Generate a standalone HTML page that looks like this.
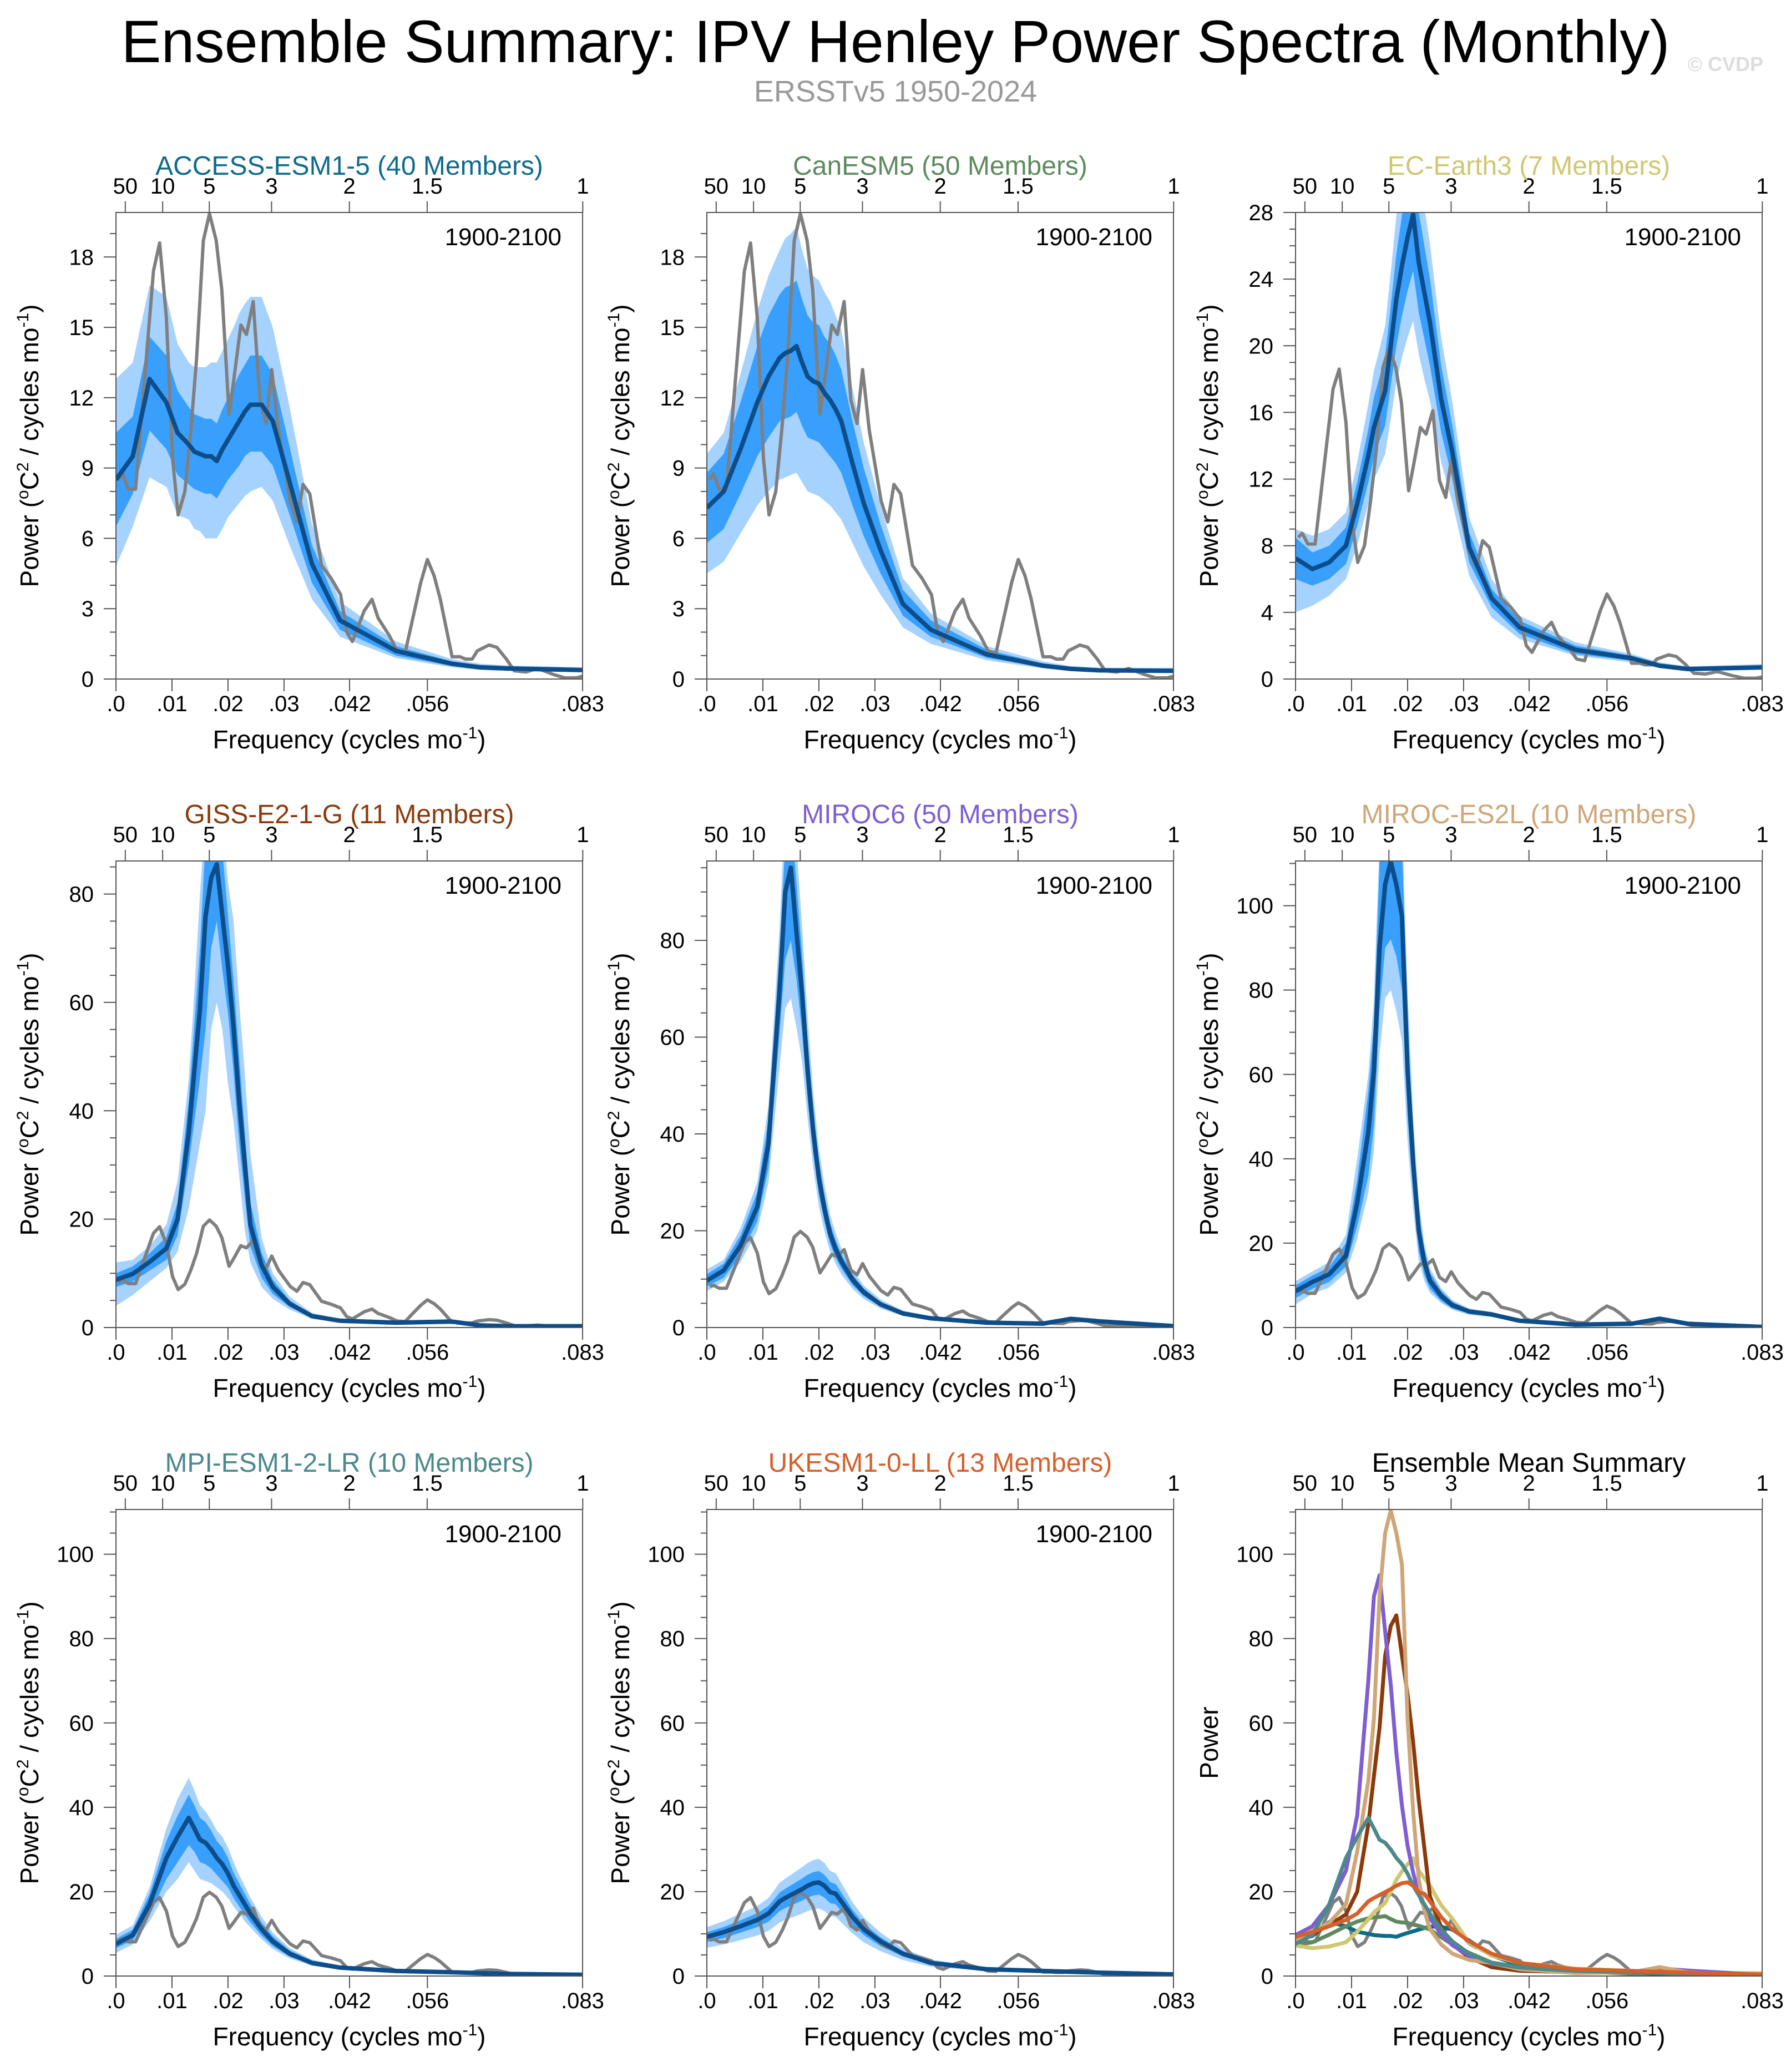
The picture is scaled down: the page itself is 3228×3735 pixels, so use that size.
<!DOCTYPE html>
<html><head><meta charset="utf-8"><style>
html,body{margin:0;padding:0;background:#fff;}
svg text{font-family:"Liberation Sans",sans-serif;}
</style></head><body>
<svg id="fig" xmlns="http://www.w3.org/2000/svg" width="3228" height="3730" viewBox="0 0 3228 3730">
<rect width="3228" height="3730" fill="#fff"/>
<text x="1614" y="112" font-size="108" text-anchor="middle" fill="#000">Ensemble Summary: IPV Henley Power Spectra (Monthly)</text>
<text x="1614" y="183" font-size="54" text-anchor="middle" fill="#999">ERSSTv5 1950-2024</text>
<text x="3178" y="128" font-size="36" font-weight="bold" text-anchor="end" fill="#ddd">© CVDP</text>
</svg>
<script>
const G=[0,.003,.006,.009,.011,.013,.014,.015,.016,.017,.018,.019,.020,.021,.022,.023,.024,.026,.028,.031,.035,.040,.050,.060,.065,.070,.0833];
const obsF=[.0005,.0012,.0022,.0035,.0067,.0078,.009,.0101,.0111,.0123,.0134,.0144,.0156,.0167,.0179,.0189,.0202,.021,.0223,.0233,.0245,.0257,.0268,.0278,.029,.0311,.0323,.0334,.0346,.0367,.0384,.0401,.0412,.0422,.0443,.0457,.0468,.0488,.0502,.0516,.053,.0544,.0556,.0568,.0579,.06,.0614,.0624,.0636,.0645,.0666,.068,.0697,.0711,.0732,.0753,.078,.0801,.0822,.0833];
const obsV=[8.5,8.75,8.1,8.1,17.4,18.6,15.4,9.4,7.0,8.0,10.7,13.7,18.7,19.85,18.7,16.6,11.3,12.7,15.1,14.7,16.1,11.9,10.9,13.2,10.6,7.6,6.7,8.3,7.9,4.85,4.3,3.6,2.0,1.6,2.9,3.4,2.6,1.85,1.2,1.1,2.6,4.1,5.1,4.4,3.4,0.95,0.95,0.85,0.85,1.2,1.45,1.35,0.85,0.35,0.3,0.45,0.2,0.05,0.05,0.12];

const accessMean=[8.5,9.5,12.8,11.8,10.5,10.0,9.7,9.6,9.5,9.5,9.3,9.8,10.2,10.6,11.0,11.4,11.7,11.7,11.0,8.4,4.9,2.5,1.2,0.65,0.5,0.45,0.38];
const accessInLo=[6.5,7.9,10.6,9.8,8.7,8.3,8.1,8.0,7.9,7.9,7.7,8.1,8.5,8.8,9.1,9.5,9.7,9.7,9.1,7.0,4.1,2.1,1.0,0.55,0.42,0.38,0.32];
const accessInHi=[10.5,11.2,14.6,13.8,12.3,11.6,11.3,11.2,11.1,11.1,10.9,11.5,12.0,12.5,13.0,13.4,13.8,13.8,13.0,9.9,5.7,2.9,1.4,0.75,0.58,0.52,0.44];
const accessOutLo=[4.8,6.5,8.6,8.2,7.0,6.8,6.4,6.3,6.0,6.0,6.0,6.4,6.9,7.2,7.5,7.8,8.0,8.2,7.6,5.7,3.4,1.8,0.9,0.5,0.38,0.34,0.3];
const accessOutHi=[12.8,13.5,16.8,16.3,14.3,13.5,13.3,13.3,13.3,13.5,13.5,14.0,14.5,15.0,15.6,16.0,16.3,16.3,15.0,11.6,6.6,3.3,1.6,0.85,0.65,0.58,0.5];

const canMean=[7.3,8.0,9.8,11.8,12.9,13.7,13.9,14.0,14.2,13.5,12.9,12.7,12.6,12.2,11.9,11.5,11.0,9.2,7.5,5.5,3.2,2.1,1.05,0.57,0.43,0.37,0.35];
const canInLo=[5.8,6.4,7.9,9.5,10.3,11.0,11.1,11.2,11.4,10.8,10.3,10.2,10.1,9.8,9.5,9.2,8.8,7.4,6.1,4.5,2.7,1.8,0.9,0.5,0.38,0.33,0.3];
const canInHi=[8.8,9.6,11.8,14.2,15.5,16.4,16.7,16.8,17.0,16.2,15.5,15.2,15.1,14.6,14.3,13.8,13.2,11.0,9.0,6.6,3.8,2.5,1.25,0.66,0.5,0.43,0.42];
const canOutLo=[4.5,5.0,6.2,7.4,8.0,8.5,8.6,8.7,8.8,8.4,8.0,7.9,7.8,7.6,7.4,7.1,6.8,5.8,4.8,3.6,2.2,1.5,0.8,0.45,0.34,0.3,0.27];
const canOutHi=[9.6,10.5,13.0,15.7,17.2,18.3,18.8,19.0,19.3,18.3,17.5,17.2,17.0,16.5,16.1,15.5,14.9,12.4,10.1,7.4,4.3,2.8,1.4,0.75,0.55,0.48,0.48];

const ecMean=[7.25,6.6,7.0,8.0,10.5,13.4,15.1,16.2,17.3,20.0,22.8,24.8,26.5,27.9,25.0,23.2,21.4,16.8,13.6,7.9,4.85,3.1,1.75,1.25,0.8,0.6,0.7];
const ecInLo=[6.0,5.6,6.0,6.9,9.2,11.8,13.3,14.3,15.2,17.6,20.0,21.8,23.3,24.5,22.0,20.4,18.8,14.8,12.0,7.0,4.3,2.7,1.5,1.1,0.7,0.52,0.6];
const ecInHi=[8.5,7.6,8.0,9.1,11.8,15.0,16.9,18.1,19.4,22.4,25.5,27.8,29.7,31.2,28.0,26.0,24.0,18.8,15.2,8.8,5.4,3.5,2.0,1.4,0.9,0.68,0.8];
const ecOutLo=[4.0,4.4,5.0,6.0,8.0,10.5,12.0,12.7,13.5,15.6,17.8,19.3,20.5,21.5,19.5,18.0,16.7,13.0,10.6,6.2,3.7,2.4,1.4,1.0,0.65,0.48,0.55];
const ecOutHi=[9.0,8.6,9.0,10.0,13.0,16.5,18.5,19.8,21.2,24.4,27.8,30.3,32.4,34.0,30.5,28.3,26.1,20.5,16.6,9.7,6.0,3.8,2.2,1.5,1.0,0.75,0.9];

const gissMean=[8.8,9.9,12.1,14.6,20,36,47.4,58.8,75.9,83,85.5,76,66.8,55.4,41.7,30.3,18.9,11.5,7.5,4.4,2.1,1.25,0.9,1.1,0.4,0.25,0.25];
const gissInLo=[7.5,8.5,10.5,12.5,17,30,38,46,55,70,75,66,58,47,34,24,15,9.2,6.2,3.8,1.8,1.1,0.8,0.95,0.35,0.22,0.22];
const gissInHi=[10,11.3,13.7,16.7,23,42,56,70,90,95,95,88,76,64,50,36,23,13.8,8.8,5.0,2.4,1.4,1.0,1.25,0.45,0.28,0.28];
const gissOutLo=[4,6,8.5,11,14,22,28,34,40,55,60,55,45,38,28,18,12,7.5,5.3,3.3,1.6,1.0,0.7,0.9,0.3,0.2,0.2];
const gissOutHi=[12,12.5,15,19,27,46,62,80,95,95,95,95,82,75,60,47,32,16.5,10,5.7,2.7,1.6,1.15,1.4,0.5,0.3,0.3];

const miroc6Mean=[9.7,11.8,16.9,25,38,70,90,95,81.7,69,53,40.4,30.9,24.5,19.4,16.2,13.7,9.9,7.3,4.8,2.9,1.9,1.0,0.8,1.8,1.3,0.3];
const miroc6InLo=[8.5,10.3,14.8,22,33,61,76,80,72,61,47,36,27.5,21.8,17.3,14.4,12.2,8.8,6.5,4.3,2.6,1.7,0.9,0.7,1.6,1.15,0.27];
const miroc6InHi=[11,13.2,19,28,43,78,100,105,92,77,59,45,34.5,27.3,21.6,18,15.2,11,8.1,5.3,3.2,2.1,1.1,0.9,2.0,1.45,0.33];
const miroc6OutLo=[7.5,9.5,13.5,20,30,54,66,68,62,55,43,33,25,19.8,15.7,13.1,11,8,5.9,3.9,2.4,1.55,0.8,0.65,1.45,1.05,0.25];
const miroc6OutHi=[12,14,20.5,30,46,83,108,110,100,83,64,48.5,37,29.4,23.3,19.4,16.4,11.9,8.7,5.8,3.5,2.3,1.2,1.0,2.15,1.55,0.36];

const es2lMean=[8.6,10.8,12.6,17,29.5,46.3,61,90,105,110.4,105,97.6,61,39,22.9,15.5,11.1,7.5,5.3,3.8,3.1,1.6,0.7,0.9,2.1,0.9,0.15];
const es2lInLo=[7.0,9.2,10.8,14.5,24,36,48,75,90,92,88,80,50,32,18,12.5,9.2,6.3,4.5,3.3,2.7,1.4,0.6,0.8,1.9,0.8,0.13];
const es2lInHi=[10,12.3,14.3,20,35,56,72,110,120,125,120,115,72,46,27,18.5,13,8.7,6.1,4.2,3.5,1.8,0.8,1.0,2.3,1.0,0.17];
const es2lOutLo=[5.5,8,9.5,13,21,32,42,65,78,80,75,68,44,28,16,11,8.2,5.8,4.2,3.0,2.5,1.3,0.55,0.75,1.8,0.75,0.12];
const es2lOutHi=[11,13.3,15.5,22,40,60,78,115,125,130,125,120,80,50,30,20,14,9.3,6.5,4.5,3.7,1.9,0.85,1.05,2.4,1.05,0.18];

const mpiMean=[7.6,9.7,17,28,33,37.5,35,32.3,31.6,30,28,26.5,24.3,21.4,19.2,17,14.8,11.1,8.2,5.3,3.1,2.0,1.2,0.9,0.7,0.5,0.3];
const mpiInLo=[6.6,8.5,14.5,23,27,31,29.5,27,26.5,25.5,24,22.5,21,18.5,16.5,14.6,12.7,9.6,7.1,4.6,2.7,1.75,1.05,0.8,0.6,0.44,0.27];
const mpiInHi=[8.8,11,19.5,32,38,43,40.5,37.5,36.5,34.5,32,30.5,28,24.5,22,19.5,17,12.7,9.4,6.1,3.6,2.3,1.4,1.0,0.8,0.57,0.34];
const mpiOutLo=[5.5,7.5,13,20,23,27,25,23,22.5,22,21,20,18.5,16.5,14.8,13,11.5,8.7,6.4,4.2,2.4,1.6,0.95,0.72,0.55,0.4,0.24];
const mpiOutHi=[9.8,12,21,35,42,47,44,40.5,39,37,34.5,33,30.5,27,24,21.3,18.6,14,10.3,6.6,3.9,2.5,1.5,1.1,0.85,0.6,0.36];

const ukMean=[9.3,10.4,11.8,13.3,14.8,17.7,18.5,19.2,19.9,20.6,21.4,22,22.2,21.4,19.9,19.5,17.7,14,11.1,8.2,5.3,3.1,1.6,1.2,1.0,0.8,0.4];
const ukInLo=[8.1,9.0,10.3,11.6,12.9,15.4,16.1,16.7,17.3,17.9,18.6,19.1,19.3,18.6,17.3,17.0,15.4,12.2,9.7,7.1,4.6,2.7,1.4,1.05,0.87,0.7,0.35];
const ukInHi=[10.4,11.6,13.2,14.9,16.6,19.8,20.7,21.5,22.3,23.1,24,24.6,24.9,24,22.3,21.8,19.8,15.7,12.4,9.2,5.9,3.5,1.8,1.35,1.12,0.9,0.45];
const ukOutLo=[6.7,7.5,8.5,9.6,10.7,12.7,13.3,13.8,14.3,14.8,15.4,15.8,16,15.4,14.3,14,12.7,10.1,8,5.9,3.8,2.2,1.15,0.86,0.72,0.58,0.29];
const ukOutHi=[11.6,13,14.8,16.6,18.5,22.1,23.1,24,24.9,25.8,26.8,27.5,27.8,26.8,24.9,24.4,22.1,17.5,13.9,10.3,6.6,3.9,2,1.5,1.25,1.0,0.5];

const topLabels=["50","10","5","3","2","1.5","1"];
const topPeriods=[50,10,5,3,2,1.5,1];
const botLabels=[".0",".01",".02",".03",".042",".056",".083"];
const botTicks=[0,.01,.02,.03,.0417,.0556,.0833];

const models=[
 {name:"ACCESS-ESM1-5 (40 Members)",id:"access",color:"#0f6b8b",m:accessMean,il:accessInLo,ih:accessInHi,ol:accessOutLo,oh:accessOutHi,ymax:19.9,maj:3,min:1},
 {name:"CanESM5 (50 Members)",id:"canesm5",color:"#5e8a5e",m:canMean,il:canInLo,ih:canInHi,ol:canOutLo,oh:canOutHi,ymax:19.9,maj:3,min:1},
 {name:"EC-Earth3 (7 Members)",id:"ec-earth3",color:"#cfc772",m:ecMean,il:ecInLo,ih:ecInHi,ol:ecOutLo,oh:ecOutHi,ymax:28,maj:4,min:1},
 {name:"GISS-E2-1-G (11 Members)",id:"giss",color:"#8b3a0c",m:gissMean,il:gissInLo,ih:gissInHi,ol:gissOutLo,oh:gissOutHi,ymax:86.1,maj:20,min:5},
 {name:"MIROC6 (50 Members)",id:"miroc6",color:"#7d5ed4",m:miroc6Mean,il:miroc6InLo,ih:miroc6InHi,ol:miroc6OutLo,oh:miroc6OutHi,ymax:96.4,maj:20,min:5},
 {name:"MIROC-ES2L (10 Members)",id:"miroc-es2l",color:"#cfa677",m:es2lMean,il:es2lInLo,ih:es2lInHi,ol:es2lOutLo,oh:es2lOutHi,ymax:110.6,maj:20,min:5},
 {name:"MPI-ESM1-2-LR (10 Members)",id:"mpi",color:"#4b898c",m:mpiMean,il:mpiInLo,ih:mpiInHi,ol:mpiOutLo,oh:mpiOutHi,ymax:110.6,maj:20,min:5},
 {name:"UKESM1-0-LL (13 Members)",id:"ukesm",color:"#d65f2a",m:ukMean,il:ukInLo,ih:ukInHi,ol:ukOutLo,oh:ukOutHi,ymax:110.6,maj:20,min:5}
];
const NS="http://www.w3.org/2000/svg";
const svg=document.getElementById('fig');
const colX=[209,1274,2335], rowY=[383,1552,2721], S=841, XMAX=0.0833;
function mk(tag,attrs,parent){const e=document.createElementNS(NS,tag);for(const k in attrs)e.setAttribute(k,attrs[k]);parent.appendChild(e);return e;}
function txt(s,attrs,parent){const e=mk('text',attrs,parent);e.textContent=s;return e;}

function panel(idx,cfg,summary){
  const x0=colX[idx%3], y0=rowY[Math.floor(idx/3)];
  const sx=f=>x0+f/XMAX*S, sy=v=>y0+S-v/cfg.ymax*S;
  const g=mk('g',{},svg);
  
  
  const cid='clip'+idx;
  const cp=mk('clipPath',{id:cid},g); mk('rect',{x:x0,y:y0,width:S,height:S},cp);
  const plot=mk('g',{'clip-path':'url(#'+cid+')'},g);
  const pts=(xs,ys)=>xs.map((f,i)=>sx(f).toFixed(1)+','+sy(ys[i]).toFixed(1)).join(' ');
  const band=(lo,hi,col,nm)=>{const p=mk('polygon',{points:pts(G,hi)+' '+pts(G.slice().reverse(),lo.slice().reverse()),fill:col},plot);
    
    };
  if(!summary){
    band(cfg.ol,cfg.oh,'#a6d2ff',cfg.id+'-outer-range');
    band(cfg.il,cfg.ih,'#389ffc',cfg.id+'-inner-range');
  }
  const ob=mk('polyline',{points:pts(obsF,obsV),fill:'none',stroke:'#7f7f7f','stroke-width':6,'stroke-linejoin':'round'},plot);
  
  
  if(!summary){
    const ml=mk('polyline',{points:pts(G,cfg.m),fill:'none',stroke:'#0c4d8a','stroke-width':8,'stroke-linejoin':'round'},plot);
    
    
  } else {
    models.forEach(md=>{
      const l=mk('polyline',{points:pts(G,md.m),fill:'none',stroke:md.color,'stroke-width':7,'stroke-linejoin':'round'},plot);
      
      
    });
  }
  const fr=mk('rect',{x:x0,y:y0,width:S,height:S,fill:'none',stroke:'#555','stroke-width':2},g);
  
  
  for(let v=0;v<=cfg.ymax+1e-6;v+=cfg.min){
    const isMaj=Math.abs(v/cfg.maj-Math.round(v/cfg.maj))<1e-6;
    mk('line',{x1:x0-(isMaj?22:11),x2:x0,y1:sy(v),y2:sy(v),stroke:'#555','stroke-width':2},g);
    if(isMaj){const t=txt(String(Math.round(v)),{x:x0-40,y:sy(v)+14,'font-size':40,'text-anchor':'end',fill:'#000'},g);
      
      }
  }
  botTicks.forEach((f,i)=>{
    mk('line',{x1:sx(f),x2:sx(f),y1:y0+S,y2:y0+S+22,stroke:'#555','stroke-width':2},g);
    const t=txt(botLabels[i],{x:sx(f),y:y0+S+58,'font-size':40,'text-anchor':'middle',fill:'#000'},g);
    
    
  });
  topPeriods.forEach((p,i)=>{
    const f=1/(12*p);
    mk('line',{x1:sx(f),x2:sx(f),y1:y0,y2:y0-20,stroke:'#555','stroke-width':2},g);
    const t=txt(topLabels[i],{x:sx(f),y:y0-34,'font-size':40,'text-anchor':'middle',fill:'#000'},g);
    
    
  });
  const tt=txt(summary?"Ensemble Mean Summary":cfg.name,{x:x0+S/2,y:y0-68,'font-size':48,'text-anchor':'middle',fill:summary?'#000':cfg.color},g);
  
  
  if(!summary){const r=txt("1900-2100",{x:x0+S-38,y:y0+59,'font-size':44,'text-anchor':'end',fill:'#000'},g);
    
    }
  const xt=txt("",{x:x0+S/2,y:y0+S+125,'font-size':46,'text-anchor':'middle',fill:'#000'},g);
  xt.innerHTML='Frequency (cycles mo<tspan dy="-18" font-size="30">-1</tspan><tspan dy="18">)</tspan>';
  
  
  const yc=y0+S/2, yx=x0-140;
  const yt=txt("",{x:yx,y:yc,'font-size':46,'text-anchor':'middle',fill:'#000',transform:'rotate(-90 '+yx+' '+yc+')'},g);
  if(summary) yt.textContent='Power';
  else yt.innerHTML='Power (<tspan dy="-18" font-size="30">o</tspan><tspan dy="18">C</tspan><tspan dy="-18" font-size="30">2</tspan><tspan dy="18"> / cycles mo</tspan><tspan dy="-18" font-size="30">-1</tspan><tspan dy="18">)</tspan>';
  
  
}
models.forEach((m,i)=>panel(i,m,false));
panel(8,{id:'ensemble-summary',ymax:110.6,maj:20,min:5},true);
</script>
</body></html>
